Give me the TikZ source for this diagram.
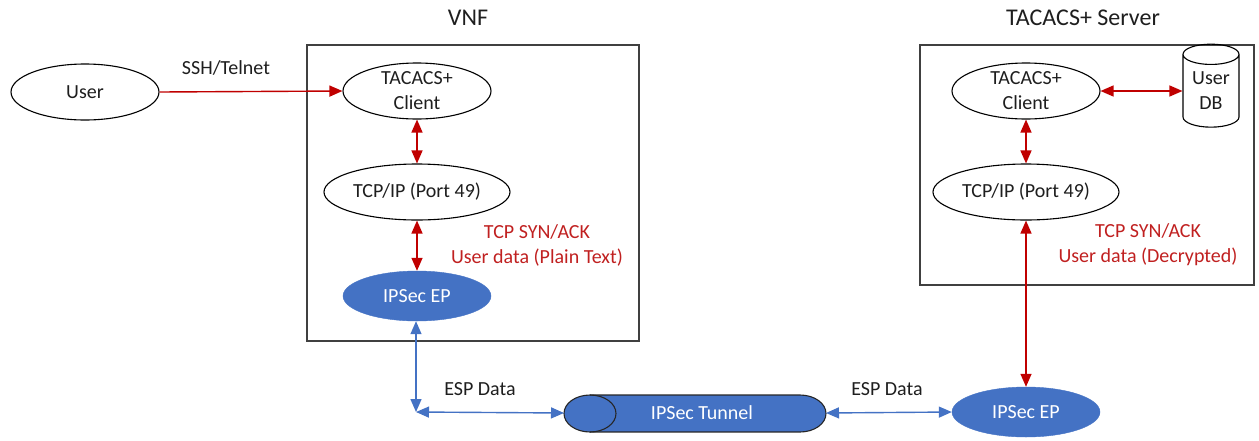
\documentclass[tikz,border=0pt]{standalone}
\usepackage{fontspec}
\setmainfont{Carlito}
\usetikzlibrary{shapes.geometric,arrows.meta}
\definecolor{dred}{RGB}{192,0,0}
\definecolor{lblred}{RGB}{192,32,32}
\definecolor{eblue}{RGB}{68,114,196}
\definecolor{txt}{RGB}{30,30,30}
\begin{document}
\begin{tikzpicture}[x=1pt,y=-1pt,
  txtfont/.style={font=\fontsize{20}{25}\selectfont},
  el/.style={ellipse,draw=black,line width=1.1pt,inner sep=0pt,txtfont,text=txt,align=center},
  ep/.style={ellipse,fill=eblue,draw=eblue,inner sep=0pt,text=white,txtfont,minimum width=148pt,minimum height=50pt},
  frame/.style={rectangle,draw=black!75,line width=1.6pt,inner sep=0pt,anchor=north west},
  title/.style={font=\fontsize{24}{28}\selectfont,text=txt},
  redlbl/.style={txtfont,text=lblred,align=center},
  blklbl/.style={txtfont,text=txt},
  redarr/.style={draw=dred,line width=1.4pt,-{Triangle[length=13pt,width=11pt]}},
  redbi/.style={draw=dred,line width=1.4pt,{Triangle[length=13pt,width=11pt]}-{Triangle[length=13pt,width=11pt]}},
  bluebi/.style={draw=eblue,line width=1.4pt,{Triangle[length=13pt,width=11pt]}-{Triangle[length=13pt,width=11pt]}},
  tunnelfill/.style={fill=eblue},
  tunnelline/.style={draw=black!85,line width=1.1pt}
]
\useasboundingbox (0,0) rectangle (1259,440);

% frames and titles
\node[frame,minimum width=332pt,minimum height=296pt] (vnf) at (306,44) {};
\node[title] (vnft) at (468,18) {VNF};
\node[frame,minimum width=334pt,minimum height=240pt] (srv) at (919,44) {};
\node[title] (srvt) at (1083,18) {TACACS+ Server};

% left side
\node[el,minimum width=148pt,minimum height=56pt] (user) at (85,92) {User};
\node[el,minimum width=148pt,minimum height=56pt] (cl) at (417,91) {TACACS+\\Client};
\node[el,minimum width=186pt,minimum height=56pt] (tcpl) at (417,192) {TCP/IP (Port 49)};
\node[ep] (epl) at (417,296) {IPSec EP};
\node[blklbl] (ssh) at (226,68) {SSH/Telnet};
\node[redlbl] (lblL) at (537,245) {TCP SYN/ACK\\User data (Plain Text)};

% right side
\node[el,minimum width=148pt,minimum height=56pt] (cr) at (1026,91) {TACACS+\\Client};
\node[el,minimum width=186pt,minimum height=56pt] (tcpr) at (1026,192) {TCP/IP (Port 49)};
\node[ep] (epr) at (1026,412) {IPSec EP};
\node[cylinder,shape border rotate=90,draw=black,line width=1.1pt,inner sep=0pt,
      minimum width=56pt,minimum height=83pt,aspect=0.54,txtfont,text=txt,align=center] (db) at (1211,91) {User\\DB};
\node[redlbl] (lblR) at (1148,245) {TCP SYN/ACK\\User data (Decrypted)};

% tunnel (drawn shape)
\fill[tunnelfill] (590,395) rectangle (800,432);
\fill[tunnelfill] (800,413.5) ellipse [x radius=26,y radius=18.5];
\fill[tunnelfill] (590,413.5) ellipse [x radius=26,y radius=18.5];
\draw[tunnelline] (590,395) -- (800,395) arc[start angle=-90,end angle=90,x radius=26,y radius=18.5] -- (590,432);
\draw[tunnelline] (590,413.5) ellipse [x radius=26,y radius=18.5];
\node[txtfont,text=white] (tun) at (702,413) {IPSec Tunnel};
\coordinate (tunL) at (564,413);
\coordinate (tunR) at (826,413);
\coordinate (corner) at (416,412);
\node[blklbl] (espl) at (480,389) {ESP Data};
\node[blklbl] (espr) at (887,389) {ESP Data};

% connectors
\draw[redarr] (user.east) -- (cl.west);
\draw[redbi] (cl.south) -- (tcpl.north);
\draw[redbi] (tcpl.south) -- (epl.north -| tcpl.south);
\draw[redbi] (cr.south) -- (tcpr.north);
\draw[redbi] (cr.east) -- (db.west |- cr.east);
\draw[redbi] (tcpr.south) -- (epr.north);
\draw[bluebi] (epl.south -| corner) -- (corner);
\draw[bluebi] (corner) -- (tunL);
\draw[bluebi] (tunR) -- (epr.west);
\end{tikzpicture}
\end{document}
